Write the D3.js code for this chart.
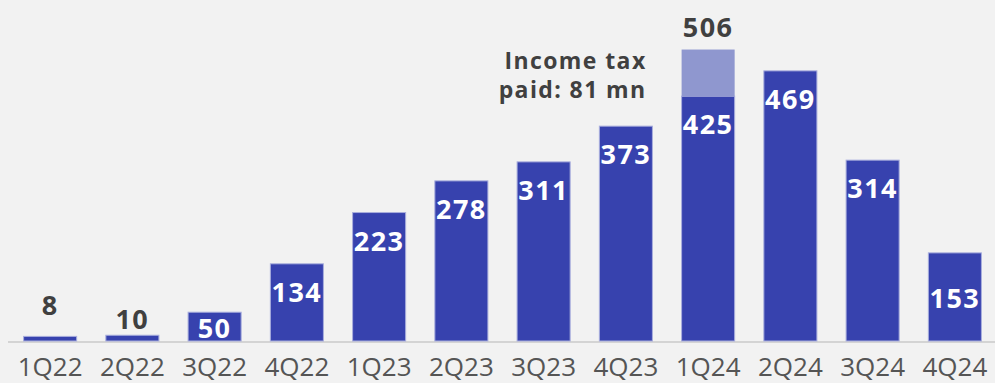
<!DOCTYPE html>
<html>
<head>
<meta charset="utf-8">
<script src="https://cdn.jsdelivr.net/npm/d3@7/dist/d3.min.js"></script>
<style>
  html, body { margin: 0; padding: 0; background: #f2f2f2; }
  svg { display: block; }
  text { font-family: "Open Sans", "Lato", sans-serif; }
</style>
</head>
<body>
<svg id="chart" width="995" height="383"></svg>
<script>
// Quarterly income tax figures (mn)
const quarters = ["1Q22","2Q22","3Q22","4Q22","1Q23","2Q23","3Q23","4Q23","1Q24","2Q24","3Q24","4Q24"];
const baseValues = [8, 10, 50, 134, 223, 278, 311, 373, 425, 469, 314, 153];
const extraValues = [0, 0, 0, 0, 0, 0, 0, 0, 81, 0, 0, 0];
const totalLabels = [null, null, null, null, null, null, null, null, 506, null, null, null];
const noteLines = ["Income tax", "paid: 81 mn"];

const W = 995, H = 383;
const baseY = 341;
const svg = d3.select("#chart");

svg.append("rect").attr("width", W).attr("height", H).attr("fill", "#f2f2f2");

const x = d3.scaleBand()
  .domain(quarters)
  .range([9, 996])
  .paddingInner(0.355)
  .paddingOuter(0.1775);

const y = d3.scaleLinear()
  .domain([0, 506])
  .range([baseY, baseY - 506 * 0.576]);

const data = quarters.map((q, i) => ({
  q, base: baseValues[i], extra: extraValues[i], total: totalLabels[i]
}));

// baseline
svg.append("line")
  .attr("x1", 8).attr("x2", W)
  .attr("y1", baseY + 1).attr("y2", baseY + 1)
  .attr("stroke", "#d4d4d4").attr("stroke-width", 2);

// main bars
svg.selectAll("rect.base").data(data).join("rect")
  .attr("class", "base")
  .attr("x", d => x(d.q))
  .attr("width", x.bandwidth())
  .attr("y", d => y(d.base))
  .attr("height", d => baseY - y(d.base))
  .attr("fill", "#3742ae")
  .attr("stroke", "#a9aedd")
  .attr("stroke-width", 1);

// tax paid segment stacked on top
svg.selectAll("rect.extra").data(data.filter(d => d.extra > 0)).join("rect")
  .attr("class", "extra")
  .attr("x", d => x(d.q))
  .attr("width", x.bandwidth())
  .attr("y", d => y(d.base + d.extra))
  .attr("height", d => y(d.base) - y(d.base + d.extra))
  .attr("fill", "#8f97cf");

// value labels: small bars get the number above, the rest inside near the top
const centered = new Set(["3Q22", "4Q24"]);
const numFont = sel => sel
  .attr("font-size", 27)
  .attr("font-weight", 700)
  .attr("letter-spacing", 1.5);

svg.selectAll("text.val").data(data).join("text")
  .attr("class", "val")
  .attr("x", d => x(d.q) + x.bandwidth() / 2)
  .attr("y", d => {
    const top = y(d.base);
    if (d.base < 20) return top - (d.base < 9 ? 21 : 6);
    if (centered.has(d.q)) return (top + baseY) / 2 + 11;
    return top + 38;
  })
  .attr("text-anchor", "middle")
  .call(numFont)
  .attr("fill", d => d.base < 20 ? "#404040" : "#ffffff")
  .text(d => d.base);

// total labels above stacked bars
svg.selectAll("text.total").data(data.filter(d => d.total != null)).join("text")
  .attr("class", "total")
  .attr("x", d => x(d.q) + x.bandwidth() / 2)
  .attr("y", d => y(d.base + d.extra) - 13)
  .attr("text-anchor", "middle")
  .call(numFont)
  .attr("fill", "#404040")
  .text(d => d.total);

// annotation, one text per line
const noteX = x("1Q24") - 35;
svg.selectAll("text.note").data(noteLines).join("text")
  .attr("class", "note")
  .attr("x", noteX)
  .attr("y", (d, i) => 69 + i * 29)
  .attr("text-anchor", "end")
  .attr("font-size", 23)
  .attr("font-weight", 700)
  .attr("letter-spacing", 1.4)
  .attr("fill", "#404040")
  .text(d => d);

// category axis
const axis = svg.append("g")
  .attr("transform", `translate(0,376)`)
  .call(d3.axisBottom(x).tickSize(0).tickPadding(0));
axis.select(".domain").remove();
axis.selectAll("text")
  .attr("y", 0)
  .attr("dy", 0)
  .attr("font-size", 26)
  .attr("fill", "#555555")
  .style("font-family", "'Open Sans', sans-serif");
</script>
</body>
</html>
